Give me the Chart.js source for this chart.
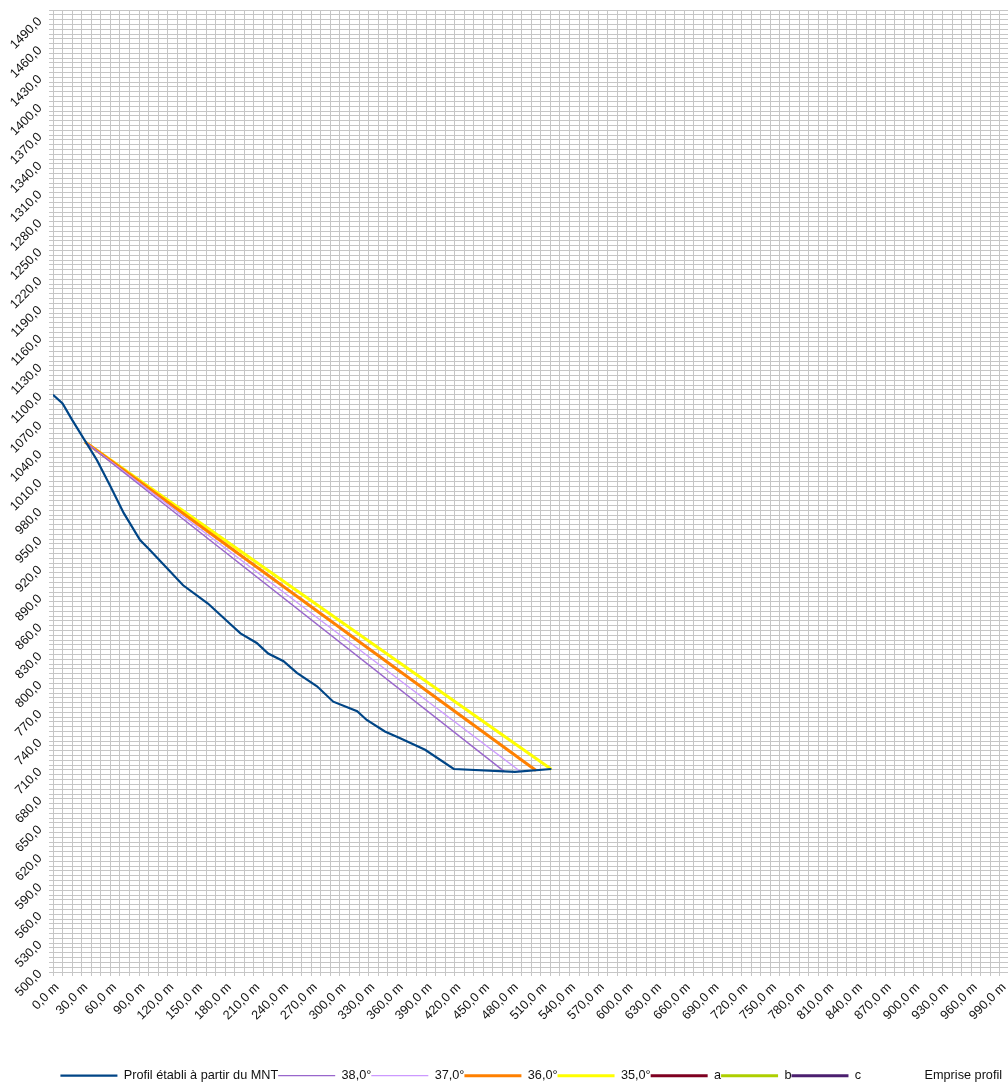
<!DOCTYPE html>
<html>
<head>
<meta charset="utf-8">
<script src="https://cdn.jsdelivr.net/npm/chart.js@4/dist/chart.umd.min.js"></script>
<style>
  html, body { margin: 0; padding: 0; background: #fff; overflow: hidden; }
  #wrap { width: 1070px; height: 1092px; position: relative; }
</style>
</head>
<body>
<div id="wrap"><canvas id="c"></canvas></div>
<script>
// Terrain profile (distance in m, altitude)
const profileX = [0, 10, 20, 46, 60, 74, 91, 101, 136, 162, 185, 196, 213, 225, 241, 255, 276, 293, 318, 328, 347, 363, 389, 419, 483, 521];
const profileZ = [1100, 1091, 1074, 1032, 1005, 977, 949, 939, 902, 883, 862, 852, 842, 831, 823, 811, 797, 781, 771, 762, 750, 743, 731, 711, 708, 711];

// Slope lines (start point common, end points read on the profile)
const slopeLabels = ['38,0°', '37,0°', '36,0°', '35,0°'];
const slopeStartX = 33.5;
const slopeStartZ = 1051;
const slopeEndX = [472, 489, 505, 521];
const slopeEndZ = [708.3, 708.1, 709.4, 710.7];

// Empty series (legend only)
const extraLabels = ['a', 'b', 'c', 'Emprise profil'];

// Axis ranges / tick steps
const xMin = 0, xMax = 1000, xGridStep = 10, xLabelStep = 30;
const yMin = 500, yMax = 1500, yGridStep = 5, yLabelStep = 30;

const slopeColors = ['#9966cc', '#cc99ff', '#ff8000', '#ffff00'];
const slopeWidths = [1.4, 1.4, 3, 3];
const extraColors = ['#7e0021', '#aecf00', '#4b1f6f', 'rgba(0,0,0,0)'];

const fmt = v => v.toFixed(1).replace('.', ',');

const datasets = [];
datasets.push({
  label: 'Profil établi à partir du MNT',
  data: profileX.map((x, i) => ({x, y: profileZ[i]})),
  borderColor: '#004586', borderWidth: 2.2, pointRadius: 0, tension: 0
});
slopeLabels.forEach((lab, i) => {
  datasets.push({
    label: lab,
    data: [{x: slopeStartX, y: slopeStartZ}, {x: slopeEndX[i], y: slopeEndZ[i]}],
    borderColor: slopeColors[i], borderWidth: slopeWidths[i], pointRadius: 0
  });
});
extraLabels.forEach((lab, i) => {
  datasets.push({
    label: lab, data: [],
    borderColor: extraColors[i], borderWidth: 3, pointRadius: 0
  });
});

const gridCol = '#c6c6c6';
const font = {family: '"Liberation Sans", Arial, sans-serif', size: 12.7};

new Chart(document.getElementById('c'), {
  type: 'line',
  data: {datasets},
  options: {
    responsive: true,
    maintainAspectRatio: false,
    animation: false,
    layout: {padding: {top: 10, right: 60.5, left: 0, bottom: 0}},
    plugins: {
      tooltip: {enabled: false},
      legend: {
        position: 'bottom',
        fullSize: false,
        labels: {
          usePointStyle: true,
          pointStyle: 'line',
          pointStyleWidth: 57,
          padding: 0,
          color: '#111',
          font: {family: '"Liberation Sans", Arial, sans-serif', size: 12.7}
        }
      }
    },
    scales: {
      x: {
        type: 'linear', min: xMin, max: xMax,
        afterFit: s => { s.height = 97.3; s.paddingLeft = 0; s.paddingRight = 0; },
        border: {color: gridCol, width: 1},
        grid: {color: gridCol, lineWidth: 1, tickLength: 4, tickColor: gridCol},
        ticks: {
          stepSize: xGridStep, autoSkip: false, minRotation: 45, maxRotation: 45,
          padding: 4, labelOffset: 4, color: '#111', font,
          callback: v => (Math.round(v) % xLabelStep === 0 && v < xMax) ? fmt(v) + ' m' : ''
        }
      },
      y: {
        type: 'linear', min: yMin, max: yMax,
        afterFit: s => { s.width = 53; s.paddingTop = 0; s.paddingBottom = 0; },
        border: {color: gridCol, width: 1},
        grid: {color: gridCol, lineWidth: 1, tickLength: 4, tickColor: gridCol},
        ticks: {
          stepSize: yGridStep, autoSkip: false, minRotation: 45, maxRotation: 45,
          padding: 9, color: '#111', font,
          callback: v => ((Math.round(v) - yMin) % yLabelStep === 0 && v < yMax) ? fmt(v) : ''
        }
      }
    }
  }
});
</script>
</body>
</html>
